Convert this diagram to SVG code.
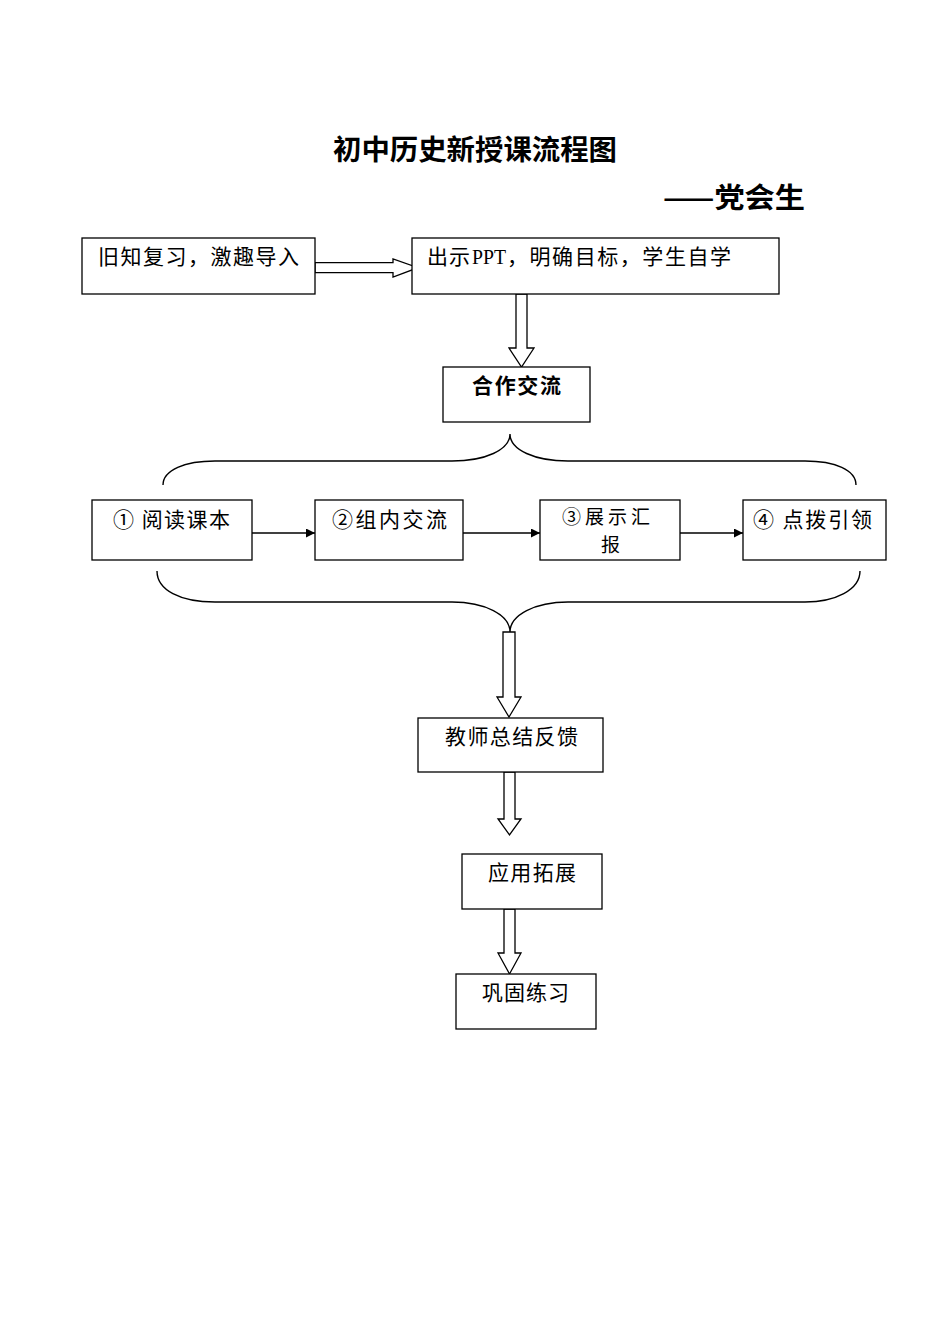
<svg xmlns="http://www.w3.org/2000/svg" width="950" height="1344" viewBox="0 0 950 1344">
<style>
.box{fill:#fff;stroke:#000;stroke-width:1.3}
.t{font-family:"Noto Sans CJK SC","Noto Sans",sans-serif;font-size:21px;fill:#000}
.b{font-weight:bold}
.ser{font-family:"Liberation Serif",serif;font-size:21px}
.hollow{fill:#fff;stroke:#000;stroke-width:1.3;stroke-linejoin:miter}
.brace{fill:none;stroke:#000;stroke-width:1.4}
.line{stroke:#000;stroke-width:1.3;fill:none}
</style>
<defs>
<marker id="ah" viewBox="0 0 10 10" refX="10" refY="5" markerWidth="9" markerHeight="9" markerUnits="userSpaceOnUse" orient="auto">
<path d="M0,0 L10,5 L0,10 Z" fill="#000"/>
</marker>
</defs>
<rect width="950" height="1344" fill="#fff"/>
<g id="title">
<text class="t b" x="333" y="160" style="font-size:28px" textLength="284" lengthAdjust="spacingAndGlyphs">初中历史新授课流程图</text>
<text class="t b" x="663" y="208" style="font-size:28px" textLength="142" lengthAdjust="spacingAndGlyphs">——党会生</text>
</g>
<g id="connectors">
<path class="hollow" d="M315,262.7 L393,262.7 L393,259 L418,267.7 L393,277 L393,272.7 L315,272.7 Z"/>
<path class="hollow" d="M516,294 L516,348 L509,348 L521.5,367 L534,348 L527,348 L527,294 Z"/>
<path class="brace" d="M163,485 C163,470 185,461 215,461 L452,461 C485,461 510,450 510,434 C510,450 535,461 568,461 L805,461 C835,461 856,470 856,485"/>
<line class="line" x1="252" y1="533" x2="315" y2="533" marker-end="url(#ah)"/>
<line class="line" x1="463" y1="533" x2="540" y2="533" marker-end="url(#ah)"/>
<line class="line" x1="680" y1="533" x2="743" y2="533" marker-end="url(#ah)"/>
<path class="brace" d="M157,571 C157,590 180,602 215,602 L452,602 C485,602 510,615 510,632 C510,615 535,602 568,602 L805,602 C835,602 860,590 860,571"/>
<path class="hollow" d="M503,632 L503,697 L497,697 L509,717 L521,697 L515,697 L515,632 Z"/>
<path class="hollow" d="M504,772 L504,819 L498,819 L509.5,835 L521,819 L515,819 L515,772 Z"/>
<path class="hollow" d="M504,909 L504,953 L498,953 L509.5,974 L521,953 L515,953 L515,909 Z"/>
</g>
<g id="n1">
<rect class="box" x="82" y="238" width="233" height="56"/>
<text class="t" x="98" y="264" textLength="201" lengthAdjust="spacing">旧知复习，激趣导入</text>
</g>
<g id="n2">
<rect class="box" x="412" y="238" width="367" height="56"/>
<text class="t" x="427" y="264" textLength="43" lengthAdjust="spacing">出示</text>
<text class="ser" x="472" y="264" textLength="34" lengthAdjust="spacingAndGlyphs">PPT</text>
<text class="t" x="507" y="264" textLength="224" lengthAdjust="spacing">，明确目标，学生自学</text>
</g>
<g id="n3">
<rect class="box" x="443" y="367" width="147" height="55"/>
<text class="t b" x="472" y="393" textLength="89" lengthAdjust="spacing">合作交流</text>
</g>
<g id="n4">
<rect class="box" x="92" y="500" width="160" height="60"/>
<text class="t" x="113" y="527" textLength="117" lengthAdjust="spacing">① 阅读课本</text>
</g>
<g id="n5">
<rect class="box" x="315" y="500" width="148" height="60"/>
<text class="t" x="332" y="527" textLength="115" lengthAdjust="spacing">②组内交流</text>
</g>
<g id="n6">
<rect class="box" x="540" y="500" width="140" height="60"/>
<text class="t" style="font-size:19px"><tspan x="562" y="524" letter-spacing="4">③展示汇</tspan><tspan x="601" y="552" letter-spacing="0">报</tspan></text>
</g>
<g id="n7">
<rect class="box" x="743" y="500" width="143" height="60"/>
<text class="t" x="753" y="527" textLength="119" lengthAdjust="spacing">④ 点拨引领</text>
</g>
<g id="n8">
<rect class="box" x="418" y="718" width="185" height="54"/>
<text class="t" x="445" y="744" textLength="133" lengthAdjust="spacing">教师总结反馈</text>
</g>
<g id="n9">
<rect class="box" x="462" y="854" width="140" height="55"/>
<text class="t" x="488" y="880" textLength="88" lengthAdjust="spacing">应用拓展</text>
</g>
<g id="n10">
<rect class="box" x="456" y="974" width="140" height="55"/>
<text class="t" x="482" y="1000" textLength="87" lengthAdjust="spacing">巩固练习</text>
</g>
</svg>
